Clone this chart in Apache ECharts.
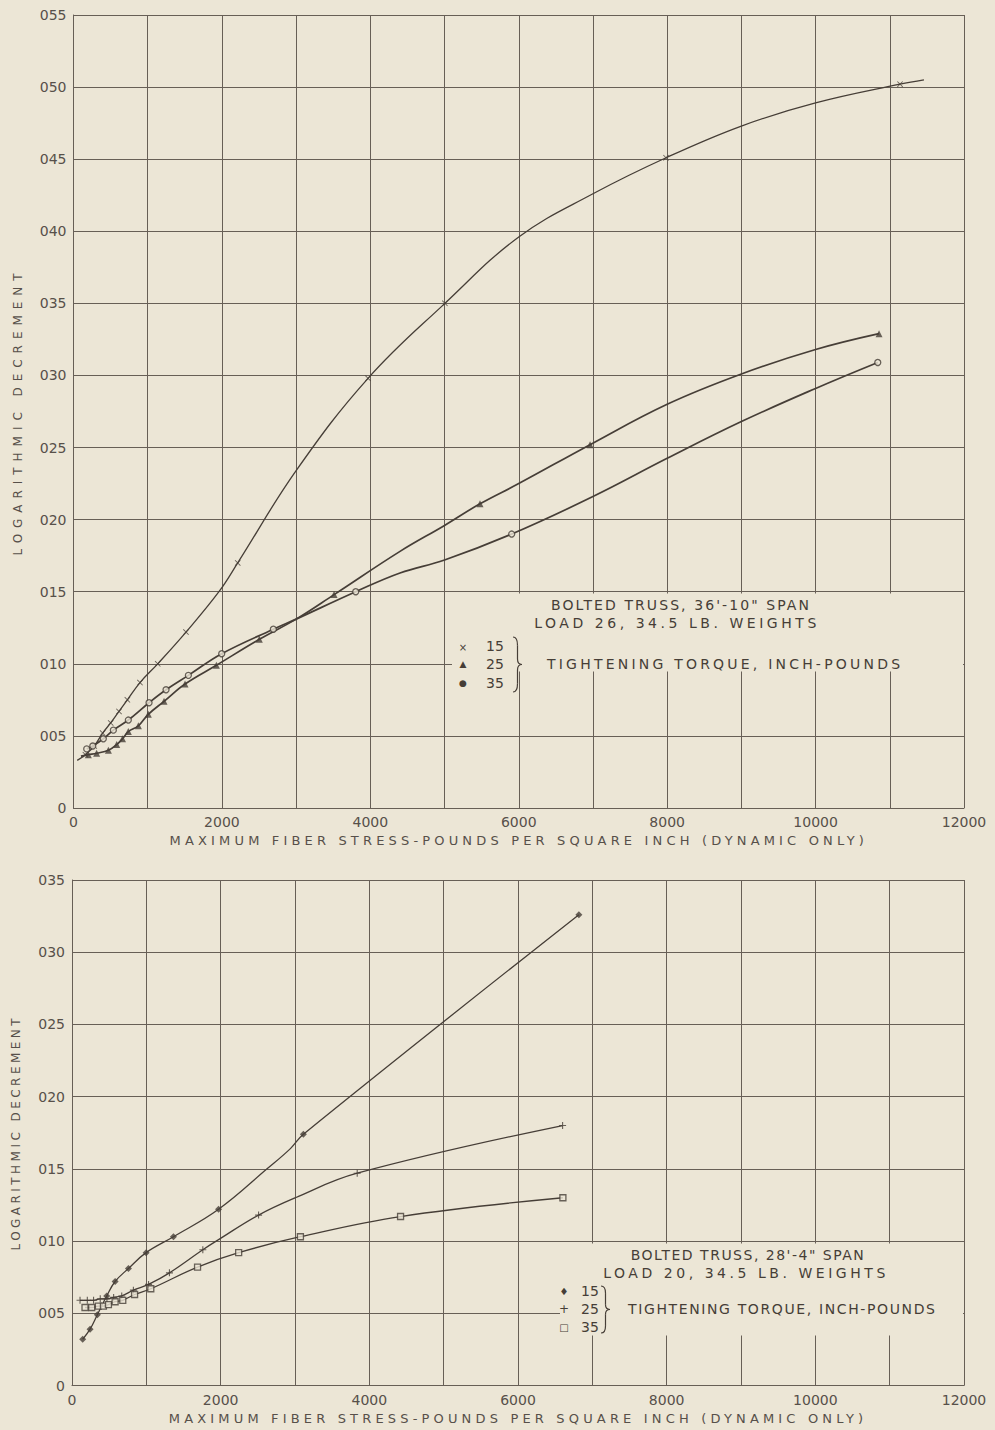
<!DOCTYPE html>
<html>
<head>
<meta charset="utf-8">
<script src="https://cdn.jsdelivr.net/npm/echarts/dist/echarts.min.js"></script>
<style>
  html, body { margin: 0; padding: 0; background: #ece6d6; }
  #chart { width: 995px; height: 1430px; }
</style>
</head>
<body>
<div id="chart"></div>
<script>
// ---------- tick labels ----------
const xTickLabels = ['0', '2000', '4000', '6000', '8000', '10000', '12000'];
const topYTickLabels = ['0', '005', '010', '015', '020', '025', '030', '035', '040', '045', '050', '055'];
const bottomYTickLabels = ['0', '005', '010', '015', '020', '025', '030', '035'];

const xAxisName = 'MAXIMUM FIBER STRESS-POUNDS PER SQUARE INCH (DYNAMIC ONLY)';
const yAxisName = 'LOGARITHMIC DECREMENT';

// ---------- TOP: bolted truss 36'-10" span, [stress psi, log decrement] ----------
// torque 15 in-lb (x markers)
const top15Points = [[160, 0.0037], [280, 0.0043], [393, 0.0052], [501, 0.0059], [613, 0.0067], [726, 0.0075],
  [896, 0.0087], [1135, 0.0100], [1516, 0.0122], [2213, 0.0170], [3969, 0.0298], [5005, 0.0350],
  [7985, 0.0451], [11138, 0.0502]];
const top15Trace = [[50, 0.0033], [1960, 0.0150], [3000, 0.0234], [6000, 0.0396], [7000, 0.0426],
  [9000, 0.0473], [10000, 0.0489], [11460, 0.0505]];
// torque 25 in-lb (triangles)
const top25Points = [[200, 0.0037], [312, 0.0038], [470, 0.0040], [582, 0.0044], [660, 0.0048], [739, 0.0053],
  [874, 0.0057], [1008, 0.0065], [1220, 0.0074], [1503, 0.0086], [1925, 0.0099], [2504, 0.0117],
  [3511, 0.0148], [5478, 0.0211], [6961, 0.0252], [10855, 0.0329]];
const top25Trace = [[100, 0.0036], [3000, 0.0131], [4400, 0.0178], [5000, 0.0196], [6000, 0.0225],
  [8000, 0.0280], [9000, 0.0301], [10000, 0.0318]];
// torque 35 in-lb (circles)
const top35Points = [[178, 0.0041], [260, 0.0043], [402, 0.0048], [537, 0.0054], [739, 0.0061], [1018, 0.0073],
  [1247, 0.0082], [1548, 0.0092], [1997, 0.0107], [2693, 0.0124], [3803, 0.0150], [5905, 0.0190],
  [10838, 0.0309]];
const top35Trace = [[3000, 0.0131], [4400, 0.0163], [5000, 0.0172], [7000, 0.0216], [8000, 0.02425],
  [9000, 0.0268], [10000, 0.0291]];

// ---------- BOTTOM: bolted truss 28'-4" span ----------
// torque 15 in-lb (diamonds)
const bot15Points = [[144, 0.0032], [243, 0.0039], [341, 0.0049], [467, 0.0062], [580, 0.0072], [759, 0.0081],
  [997, 0.0092], [1365, 0.0103], [1972, 0.0122], [3113, 0.0174], [6819, 0.0326]];
const bot15Trace = [[2624, 0.0150], [2938, 0.0164]];
// torque 25 in-lb (plus)
const bot25Points = [[108, 0.0059], [206, 0.0059], [290, 0.0059], [380, 0.0060], [470, 0.0060], [560, 0.0061],
  [669, 0.0062], [826, 0.0066], [1030, 0.0070], [1311, 0.0078], [1760, 0.0094], [2510, 0.0118],
  [3837, 0.0147], [6600, 0.0180]];
const bot25Trace = [[1972, 0.0101], [3005, 0.0130]];
// torque 35 in-lb (squares)
const bot35Points = [[175, 0.0054], [265, 0.0054], [355, 0.0055], [423, 0.0055], [490, 0.0056], [580, 0.0058],
  [683, 0.0059], [842, 0.0063], [1060, 0.0067], [1689, 0.0082], [2242, 0.0092], [3073, 0.0103],
  [4420, 0.0117], [6604, 0.0130]];
const bot35Trace = [];

// ---------- styling ----------
const BG = '#ece6d6';
const INK = '#463e37';
const GRID = '#675f56';
const LABEL = '#57504a';
const FONT = 'DejaVu Sans';

const xSymbol = 'path://M0,1L1,0L5,4L9,0L10,1L6,5L10,9L9,10L5,6L1,10L0,9L4,5Z';
const plusSymbol = 'path://M4.2,0H5.8V4.2H10V5.8H5.8V10H4.2V5.8H0V4.2H4.2Z';

function merged(points, trace) {
  return points.concat(trace).slice().sort((a, b) => a[0] - b[0]);
}

function makeX(gridIndex) {
  return {
    type: 'value', gridIndex, min: 0, max: 12000, interval: 1000,
    name: xAxisName, nameLocation: 'middle', nameGap: 26,
    nameTextStyle: { color: LABEL, fontFamily: FONT, fontSize: 13 },
    axisLine: { show: true, lineStyle: { color: GRID, width: 1 } },
    axisTick: { show: false },
    splitLine: { show: true, lineStyle: { color: GRID, width: 1 } },
    axisLabel: {
      color: LABEL, fontFamily: FONT, fontSize: 14, margin: 7,
      formatter: v => (v % 2000 === 0 ? xTickLabels[v / 2000] : '')
    }
  };
}
function makeY(gridIndex, labels) {
  return {
    type: 'value', gridIndex, min: 0, max: (labels.length - 1) * 0.005, interval: 0.005,
    name: yAxisName, nameLocation: 'middle', nameGap: 50, nameRotate: 90,
    nameTextStyle: { color: LABEL, fontFamily: FONT, fontSize: 12 },
    axisLine: { show: true, lineStyle: { color: GRID, width: 1 } },
    axisTick: { show: false },
    splitLine: { show: true, lineStyle: { color: GRID, width: 1 } },
    axisLabel: {
      color: LABEL, fontFamily: FONT, fontSize: 14, margin: 7,
      formatter: v => labels[Math.round(v / 0.005)]
    }
  };
}

function lineSeries(idx, points, trace, width) {
  return {
    type: 'line', xAxisIndex: idx, yAxisIndex: idx, data: merged(points, trace),
    smooth: 0.4, showSymbol: false, symbol: 'none',
    lineStyle: { color: INK, width: width || 1.5 }, z: 3, silent: true
  };
}
function markSeries(idx, points, symbol, size, hollow) {
  return {
    type: 'scatter', xAxisIndex: idx, yAxisIndex: idx, data: points,
    symbol, symbolSize: size, z: 4, silent: true,
    itemStyle: hollow ? { color: BG, borderColor: INK, borderWidth: 1.3 } : { color: INK }
  };
}

// right-facing curly brace built from quadratic curves and lines
function brace(x0, y0, y1, w) {
  const xm = x0 + w / 2, ym = (y0 + y1) / 2, h = y1 - y0;
  const st = { stroke: INK, lineWidth: 1.2, fill: 'none' };
  const q = (x1, y1_, cx, cy, x2, y2) => ({ type: 'bezierCurve', z: 10, silent: true,
    shape: { x1, y1: y1_, x2, y2, cpx1: cx, cpy1: cy }, style: st });
  const l = (x1, y1_, x2, y2) => ({ type: 'line', z: 10, silent: true,
    shape: { x1, y1: y1_, x2, y2 }, style: st });
  return [
    q(x0, y0, xm, y0, xm, y0 + h * 0.15),
    l(xm, y0 + h * 0.15, xm, ym - h * 0.1),
    q(xm, ym - h * 0.1, xm, ym, x0 + w, ym),
    q(x0 + w, ym, xm, ym, xm, ym + h * 0.1),
    l(xm, ym + h * 0.1, xm, y1 - h * 0.15),
    q(xm, y1 - h * 0.15, xm, y1, x0, y1)
  ];
}
function txt(x, y, text, size, align, color) {
  return { type: 'text', x, y, z: 10, silent: true,
    style: { text, fill: color || INK, font: `${size}px "${FONT}"`, textAlign: align || 'center', textVerticalAlign: 'middle' } };
}

const chart = echarts.init(document.getElementById('chart'), null, { renderer: 'svg', width: 995, height: 1430 });

const graphics = [
  // top annotation panel
  { type: 'rect', z: 5, silent: true, shape: { x: 452, y: 593.5, width: 511, height: 78 }, style: { fill: BG } },
  txt(681, 605, 'BOLTED TRUSS, 36\'-10" SPAN', 14),
  txt(677, 623, 'LOAD 26, 34.5 LB. WEIGHTS', 14),
  txt(463, 647, '×', 10),
  txt(463, 664, '▲', 9),
  txt(463, 683, '●', 9),
  txt(495, 646, '15', 14),
  txt(495, 664, '25', 14),
  txt(495, 683, '35', 14),
  ...brace(513, 637, 692, 9),
  txt(547, 664, 'TIGHTENING TORQUE, INCH-POUNDS', 14, 'left'),
  // bottom annotation panel
  { type: 'rect', z: 5, silent: true, shape: { x: 560, y: 1243.5, width: 403, height: 92 }, style: { fill: BG } },
  txt(748, 1255, 'BOLTED TRUSS, 28\'-4" SPAN', 14),
  txt(746, 1273, 'LOAD 20, 34.5 LB. WEIGHTS', 14),
  txt(564, 1291, '♦', 10),
  txt(564, 1309, '+', 12),
  txt(564, 1327, '□', 10),
  txt(590, 1291, '15', 14),
  txt(590, 1309, '25', 14),
  txt(590, 1327, '35', 14),
  ...brace(601, 1286, 1333, 9),
  txt(628, 1309, 'TIGHTENING TORQUE, INCH-POUNDS', 14, 'left')
];

const option = {
  backgroundColor: BG,
  animation: false,
  grid: [
    { left: 73.5, top: 15, width: 890.5, height: 793 },
    { left: 72, top: 880, width: 892, height: 505.5 }
  ],
  xAxis: [makeX(0), makeX(1)],
  yAxis: [makeY(0, topYTickLabels), makeY(1, bottomYTickLabels)],
  series: [
    lineSeries(0, top15Points, top15Trace, 1.3),
    lineSeries(0, top25Points, top25Trace, 1.7),
    lineSeries(0, top35Points, top35Trace, 1.7),
    markSeries(0, top15Points, xSymbol, 6, false),
    markSeries(0, top25Points, 'triangle', 7, false),
    markSeries(0, top35Points, 'circle', 6, true),
    lineSeries(1, bot15Points, bot15Trace, 1.3),
    lineSeries(1, bot25Points, bot25Trace, 1.3),
    lineSeries(1, bot35Points, bot35Trace, 1.3),
    markSeries(1, bot15Points, 'diamond', 7, false),
    markSeries(1, bot25Points, plusSymbol, 7, false),
    markSeries(1, bot35Points, 'rect', 6, true)
  ],
  graphic: graphics
};
chart.setOption(option);

// widen hand-lettered texts to the reference widths (letter spacing)
const spacingTargets = {};
spacingTargets[xAxisName] = [694, 694];
spacingTargets[yAxisName] = [282, 232];
spacingTargets['BOLTED TRUSS, 36\'-10" SPAN'] = [258];
spacingTargets['LOAD 26, 34.5 LB. WEIGHTS'] = [282];
spacingTargets['BOLTED TRUSS, 28\'-4" SPAN'] = [233];
spacingTargets['LOAD 20, 34.5 LB. WEIGHTS'] = [282];
spacingTargets['TIGHTENING TORQUE, INCH-POUNDS'] = [353, 307];

function applySpacing() {
  const svg = document.querySelector('#chart svg');
  if (!svg) return;
  const counts = {};
  svg.querySelectorAll('text').forEach(t => {
    const s = t.textContent;
    const tg = spacingTargets[s];
    if (!tg) return;
    const k = counts[s] || 0;
    counts[s] = k + 1;
    const w = tg[Math.min(k, tg.length - 1)];
    t.style.letterSpacing = '0px';
    const nat = t.getComputedTextLength();
    const ls = (w - nat) / Math.max(1, s.length - 1);
    t.style.letterSpacing = ls.toFixed(2) + 'px';
  });
}
applySpacing();
chart.on('finished', applySpacing);
</script>
</body>
</html>
